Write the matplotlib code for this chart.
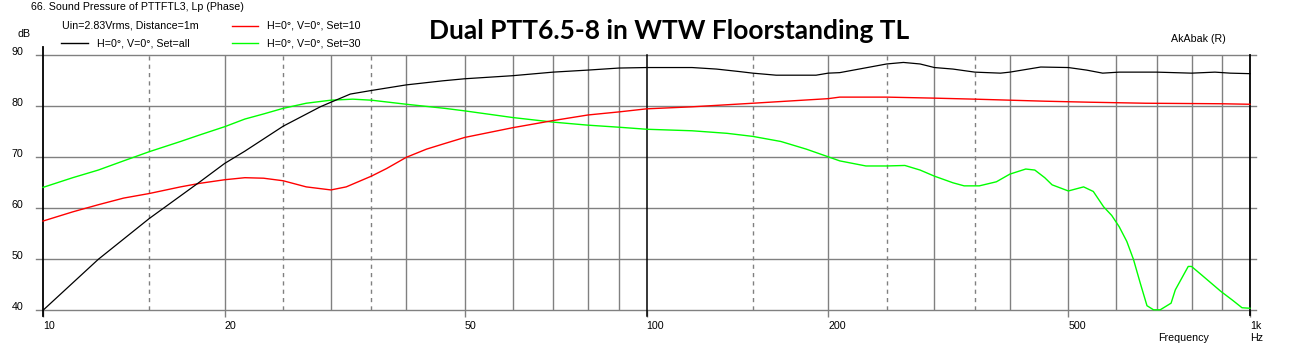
import matplotlib
matplotlib.use("Agg")
import matplotlib.pyplot as plt
from matplotlib.lines import Line2D
from matplotlib.transforms import ScaledTranslation

# values (frequency in Hz, level in dB)
black_f = [10, 12.35, 15, 18.2, 20, 21.6, 25, 28.8, 30, 32.3,
           35, 40, 46, 50, 60, 70, 80, 90, 100, 119,
           130.6, 142.8, 150, 164, 191, 200, 209, 225, 250, 266.5,
           284, 300, 322, 350, 386, 400, 450, 500, 536, 570,
           607, 700, 800, 875, 927, 1000]
black_db = [40.0, 50.0, 58.0, 65.2, 68.8, 71.2, 76.1, 79.9, 80.8, 82.4,
            83.1, 84.2, 85.0, 85.4, 86.0, 86.7, 87.1, 87.5, 87.6, 87.6,
            87.3, 86.8, 86.5, 86.1, 86.1, 86.5, 86.6, 87.3, 88.3, 88.6,
            88.3, 87.6, 87.3, 86.7, 86.5, 86.7, 87.7, 87.6, 87.1, 86.5,
            86.7, 86.7, 86.5, 86.7, 86.5, 86.4]

red_f = [10, 11.2, 12.35, 13.6, 15, 16.9, 18.2, 20, 21.6, 23.2,
         25, 27.3, 30, 31.8, 35, 37.1, 40, 43.2, 46.3, 50,
         60, 70, 80, 90, 100, 119, 150, 200, 209, 250,
         300, 350, 400, 457, 543, 672, 895, 1000]
red_db = [57.5, 59.3, 60.7, 62.0, 62.9, 64.2, 64.9, 65.6, 66.0, 65.9,
          65.4, 64.2, 63.6, 64.2, 66.3, 67.8, 70.0, 71.6, 72.7, 73.9,
          75.8, 77.2, 78.3, 78.9, 79.5, 79.9, 80.6, 81.5, 81.8, 81.8,
          81.6, 81.4, 81.2, 81.0, 80.8, 80.6, 80.5, 80.4]

green_f = [10, 11.2, 12.35, 13.6, 15, 16.9, 18.2, 20, 21.6, 23.2,
           25, 27.3, 30, 32.6, 35, 40, 46.3, 50, 60, 70,
           80, 90, 100, 119, 136, 150, 167, 184, 200, 209,
           231, 250, 268, 284, 300, 322, 336, 356, 380, 400,
           425, 440, 457, 470, 500, 530, 550, 572, 590, 607,
           625, 641, 658, 675, 692, 710, 740, 752, 790, 800,
           832, 895, 935, 970, 1000]
green_db = [64.1, 66.0, 67.5, 69.3, 71.1, 73.1, 74.4, 76.0, 77.5, 78.5,
            79.6, 80.6, 81.2, 81.4, 81.2, 80.4, 79.6, 79.1, 77.8, 76.9,
            76.3, 75.9, 75.5, 75.2, 74.7, 74.1, 73.1, 71.6, 70.1, 69.3,
            68.3, 68.3, 68.4, 67.5, 66.3, 65.0, 64.4, 64.4, 65.2, 66.7,
            67.7, 67.5, 66.0, 64.6, 63.4, 64.2, 63.3, 60.3, 58.6, 56.4,
            53.5, 50.0, 45.3, 40.9, 40.1, 40.1, 41.4, 44.0, 48.6, 48.6,
            46.9, 43.7, 42.0, 40.5, 40.4]

x_ticks = [10, 20, 50, 100, 200, 500, 1000]
x_labels = ["10", "20", "50", "100", "200", "500", "1k"]
y_ticks = [40, 50, 60, 70, 80, 90]

W, H = 1292, 352
FONT = "Liberation Sans"
FS = 7.7
GRAY = "#808080"

fig = plt.figure(figsize=(W / 100, H / 100), dpi=100)
ax = fig.add_axes([43 / W, 1 - 310.3 / H, 1207 / W, 255 / H])
ax.set_xscale("log")
ax.set_xlim(10, 1000)
ax.set_ylim(40, 90)
for s in ax.spines.values():
    s.set_visible(False)

pw = 1207.0
# horizontal grid, a bit wider than the plot
for v in y_ticks:
    ax.axhline(v, xmin=-7 / pw, xmax=1 + 6 / pw, color=GRAY, lw=1, clip_on=False, zorder=1)

# vertical grid
solid = [20, 30, 40, 50, 60, 70, 80, 90, 200, 300, 400, 500, 600, 700, 800, 900]
dashed = [15, 25, 35, 150, 250, 350]
for f in solid:
    ax.axvline(f, color=GRAY, lw=1, zorder=1)
for f in dashed:
    ax.axvline(f, color=GRAY, lw=1, ls=(0, (3, 3)), zorder=1)
ax.axvline(10, ymin=-6 / 255, ymax=1 + 8 / 255, color="black", lw=1.3, clip_on=False, zorder=2)
ax.axvline(100, ymin=-6 / 255, ymax=1, color="black", lw=1.1, clip_on=False, zorder=2)
ax.axvline(1000, ymin=-5 / 255, ymax=1, color="black", lw=1.3, clip_on=False, zorder=2)

ax.plot(black_f, black_db, color="black", lw=0.9, clip_on=False, zorder=5)
ax.plot(red_f, red_db, color="#ff0000", lw=1.0, clip_on=False, zorder=4)
ax.plot(green_f, green_db, color="#00ff00", lw=1.0, clip_on=False, zorder=3)

ax.minorticks_off()
ax.set_xticks(x_ticks)
ax.set_xticklabels(x_labels)
ax.tick_params(axis="x", length=5, width=1, color=GRAY, pad=3, labelsize=FS)
for lab in ax.get_xticklabels():
    lab.set_horizontalalignment("left")
    lab.set_fontfamily(FONT)

ax.set_yticks(y_ticks)
ax.set_yticklabels([str(v) for v in y_ticks])
ax.tick_params(axis="y", length=0, pad=14, labelsize=FS)
shift = ScaledTranslation(0, 4 / 100, fig.dpi_scale_trans)
for lab in ax.get_yticklabels():
    lab.set_transform(lab.get_transform() + shift)
    lab.set_fontfamily(FONT)


def px_text(x, y, s, **kw):
    kw.setdefault("fontsize", FS)
    kw.setdefault("family", FONT)
    kw.setdefault("va", "center")
    fig.text(x / W, 1 - y / H, s, **kw)


def px_line(x0, x1, y, color):
    fig.add_artist(Line2D([x0 / W, x1 / W], [1 - y / H, 1 - y / H],
                          transform=fig.transFigure, color=color, lw=1))


px_text(31, 7, "66. Sound Pressure of PTTFTL3, Lp (Phase)")
px_text(62, 26, "Uin=2.83Vrms, Distance=1m")
px_text(18, 34, "dB")
px_line(61, 88, 43, "black")
px_text(97, 43, "H=0°, V=0°, Set=all")
px_line(232, 258, 26, "#ff0000")
px_text(267, 26, "H=0°, V=0°, Set=10")
px_line(232, 258, 43, "#00ff00")
px_text(267, 43, "H=0°, V=0°, Set=30")
px_text(1171, 39, "AkAbak (R)")
px_text(1158, 338, "Frequency")
px_text(1250, 338, "Hz")

fig.text(669 / W, 1 - 39 / H, "Dual PTT6.5-8 in WTW Floorstanding TL",
         ha="center", va="baseline", fontsize=19, fontweight="bold", family="Lato")

fig.savefig("out.png", dpi=100)
